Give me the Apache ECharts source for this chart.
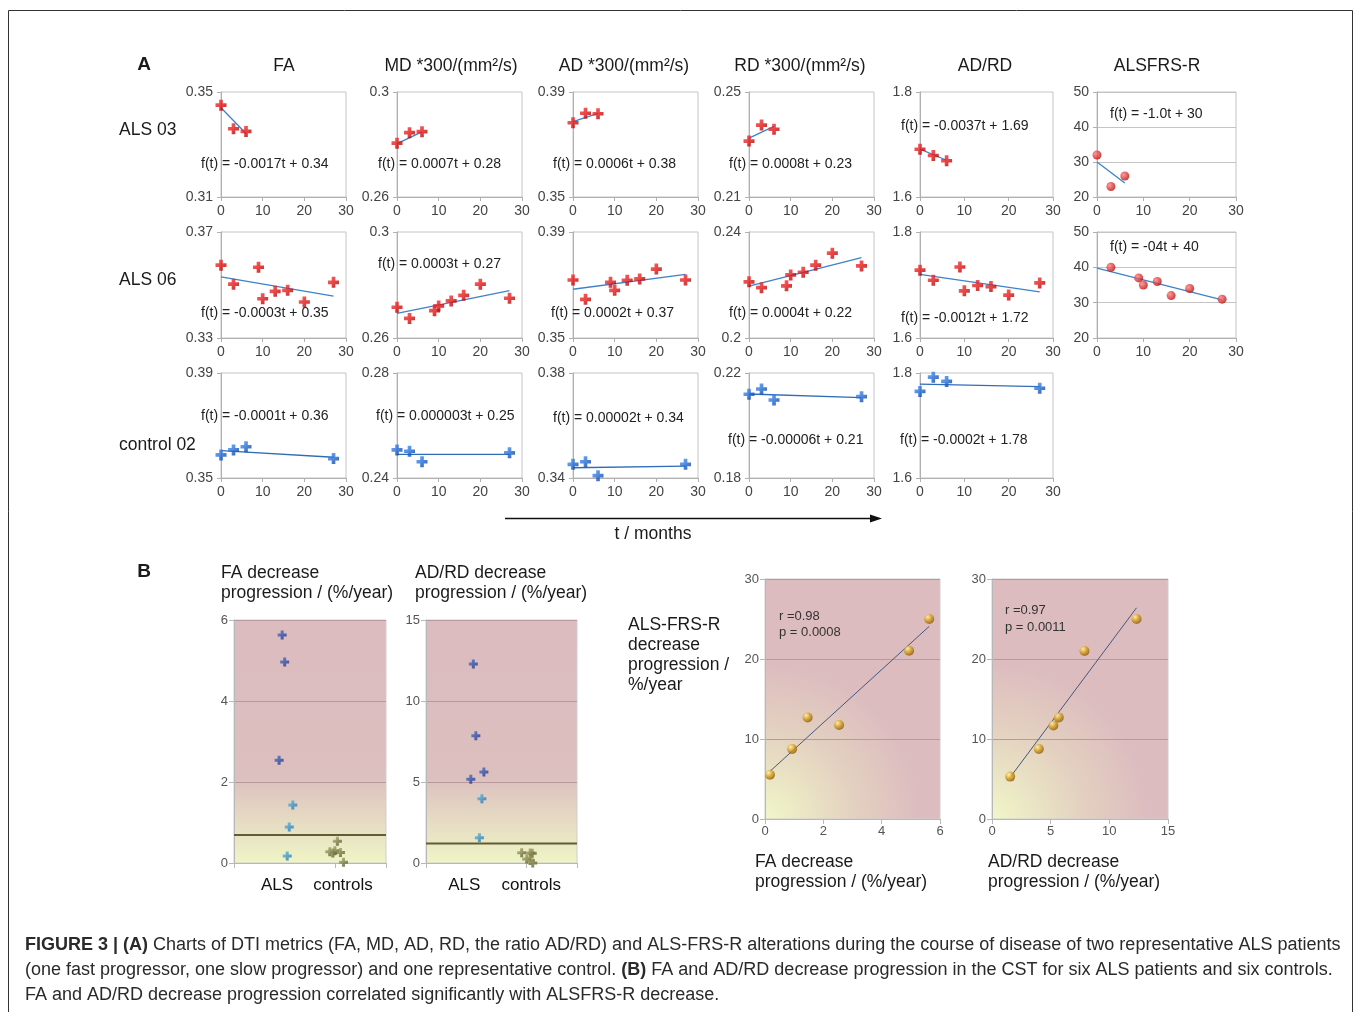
<!DOCTYPE html>
<html><head><meta charset="utf-8">
<script src="https://cdn.jsdelivr.net/npm/echarts@6/dist/echarts.min.js"></script>
<style>html,body{margin:0;padding:0;background:#fff}#c{width:1354px;height:1012px}</style>
</head><body><div id="c"></div>
<script>
// ---------------- DATA ----------------
// time points (months)
const tALS03 = [0, 3, 6];
const tALS06 = [0, 3, 9, 10, 13, 16, 20, 27];
const tALS06frs = [3, 9, 10, 13, 16, 20, 27];
const tCtrl02 = [0, 3, 6, 27];

// ALS 03
const als03FA = [0.345, 0.336, 0.335];
const als03MD = [0.2805, 0.2845, 0.2849];
const als03AD = [0.3783, 0.3819, 0.3817];
const als03RD = [0.2313, 0.2374, 0.2358];
const als03ADRD = [1.691, 1.679, 1.669];
const als03FRS = [32, 23, 26];
// ALS 06
const als06FA = [0.3575, 0.3503, 0.3567, 0.3448, 0.3476, 0.348, 0.3436, 0.351];
const als06MD = [0.2716, 0.2674, 0.2703, 0.2721, 0.274, 0.2761, 0.2803, 0.275];
const als06AD = [0.3719, 0.3646, 0.371, 0.368, 0.3718, 0.3723, 0.376, 0.3719];
const als06RD = [0.2212, 0.219, 0.2197, 0.2238, 0.2248, 0.2275, 0.232, 0.2272];
const als06ADRD = [1.728, 1.709, 1.734, 1.689, 1.699, 1.697, 1.681, 1.704];
const als06FRS = [40, 37, 35, 36, 32, 34, 31];
// control 02
const ctrlFA = [0.3588, 0.3607, 0.3619, 0.3574];
const ctrlMD = [0.2507, 0.2502, 0.2462, 0.2496];
const ctrlAD = [0.3452, 0.3462, 0.3409, 0.3452];
const ctrlRD = [0.2119, 0.2139, 0.2097, 0.211];
const ctrlADRD = [1.765, 1.792, 1.784, 1.771];

// trend-line end values as drawn (start, end)
const tr03FA = [0.344, 0.3342], tr03MD = [0.2803, 0.2848], tr03AD = [0.3787, 0.3819],
      tr03RD = [0.2324, 0.2369], tr03ADRD = [1.691, 1.670], tr03FRS = [30, 24];
const tr06FA = [0.3531, 0.3458], tr06MD = [0.2693, 0.2779], tr06AD = [0.3684, 0.374],
      tr06RD = [0.2196, 0.2303], tr06ADRD = [1.720, 1.687], tr06FRS = [39.8, 30.8];
const trCFA = [0.3604, 0.3579], trCMD = [0.249, 0.249], trCAD = [0.3439, 0.3445],
      trCRD = [0.212, 0.2106], trCADRD = [1.779, 1.774];

// Panel B
const faALS = [5.63, 4.96, 2.54, 1.43, 0.89, 0.17];
const faALSx = [0.95, 1.0, 0.89, 1.16, 1.09, 1.05];
const faCtrl = [0.54, 0.28, 0.30, 0.26, 0.02, 0.25];
const faCtrlX = [2.04, 1.89, 1.99, 2.1, 2.16, 1.95];
const adrdALS = [12.28, 7.86, 5.62, 5.17, 3.97, 1.56];
const adrdALSx = [0.94, 0.99, 1.15, 0.89, 1.11, 1.06];
const adrdCtrl = [0.64, 0.62, 0.6, 0.25, 0.15, 0.0];
const adrdCtrlX = [1.9, 2.07, 2.11, 2.0, 2.07, 2.12];
const faThreshold = 0.69, adrdThreshold = 1.2;

const faProg = [0.17, 0.93, 1.46, 2.54, 4.94, 5.63];
const frsVsFa = [5.54, 8.75, 12.7, 11.75, 21.04, 25.0];
const adrdProg = [1.55, 3.99, 5.23, 5.69, 7.88, 12.32];
const frsVsAdrd = [5.3, 8.75, 11.7, 12.7, 21.0, 25.0];
const fitFaX = [0.17, 5.63], fitFaY = [5.96, 24.08];
const fitAdrdX = [1.61, 12.32], fitAdrdY = [5.33, 26.4];

// ---------------- LAYOUT / STYLE ----------------
const FONT = "'Liberation Sans', Arial, sans-serif";
const colLeft = [221, 397, 573, 749, 920, 1097];
const colWidth = [125, 125, 125, 125, 133, 139];
const rowTop = [92, 232, 373];
const rowHeight = [105, 106, 105];

const panels = [
  {r:0,c:0,min:0.31,max:0.35,t:tALS03,v:als03FA,tt:[0,6],tv:tr03FA,eq:'f(t) = -0.0017t + 0.34',ex:201,ey:164},
  {r:0,c:1,min:0.26,max:0.30,t:tALS03,v:als03MD,tt:[0,6],tv:tr03MD,eq:'f(t) = 0.0007t + 0.28',ex:378,ey:164},
  {r:0,c:2,min:0.35,max:0.39,t:tALS03,v:als03AD,tt:[0,6],tv:tr03AD,eq:'f(t) = 0.0006t + 0.38',ex:553,ey:164},
  {r:0,c:3,min:0.21,max:0.25,t:tALS03,v:als03RD,tt:[0,6],tv:tr03RD,eq:'f(t) = 0.0008t + 0.23',ex:729,ey:164},
  {r:0,c:4,min:1.6,max:1.8,t:tALS03,v:als03ADRD,tt:[0,6],tv:tr03ADRD,eq:'f(t) = -0.0037t + 1.69',ex:901,ey:126},
  {r:0,c:5,min:20,max:50,t:tALS03,v:als03FRS,tt:[0,6],tv:tr03FRS,eq:'f(t) = -1.0t + 30',ex:1110,ey:114,frs:true},
  {r:1,c:0,min:0.33,max:0.37,t:tALS06,v:als06FA,tt:[0,27],tv:tr06FA,eq:'f(t) = -0.0003t + 0.35',ex:201,ey:313},
  {r:1,c:1,min:0.26,max:0.30,t:tALS06,v:als06MD,tt:[0,27],tv:tr06MD,eq:'f(t) = 0.0003t + 0.27',ex:378,ey:264},
  {r:1,c:2,min:0.35,max:0.39,t:tALS06,v:als06AD,tt:[0,27],tv:tr06AD,eq:'f(t) = 0.0002t + 0.37',ex:551,ey:313},
  {r:1,c:3,min:0.20,max:0.24,t:tALS06,v:als06RD,tt:[0,27],tv:tr06RD,eq:'f(t) = 0.0004t + 0.22',ex:729,ey:313},
  {r:1,c:4,min:1.6,max:1.8,t:tALS06,v:als06ADRD,tt:[0,27],tv:tr06ADRD,eq:'f(t) = -0.0012t + 1.72',ex:901,ey:318},
  {r:1,c:5,min:20,max:50,t:tALS06frs,v:als06FRS,tt:[0,27],tv:tr06FRS,eq:'f(t) = -04t + 40',ex:1110,ey:247,frs:true},
  {r:2,c:0,min:0.35,max:0.39,t:tCtrl02,v:ctrlFA,tt:[0,27],tv:trCFA,eq:'f(t) = -0.0001t + 0.36',ex:201,ey:416,ctrl:true},
  {r:2,c:1,min:0.24,max:0.28,t:tCtrl02,v:ctrlMD,tt:[0,27],tv:trCMD,eq:'f(t) = 0.000003t + 0.25',ex:376,ey:416,ctrl:true},
  {r:2,c:2,min:0.34,max:0.38,t:tCtrl02,v:ctrlAD,tt:[0,27],tv:trCAD,eq:'f(t) = 0.00002t + 0.34',ex:553,ey:418,ctrl:true},
  {r:2,c:3,min:0.18,max:0.22,t:tCtrl02,v:ctrlRD,tt:[0,27],tv:trCRD,eq:'f(t) = -0.00006t + 0.21',ex:728,ey:440,ctrl:true},
  {r:2,c:4,min:1.6,max:1.8,t:tCtrl02,v:ctrlADRD,tt:[0,27],tv:trCADRD,eq:'f(t) = -0.0002t + 1.78',ex:900,ey:440,ctrl:true}
];

const PLUS = 'path://M4,0H8V4H12V8H8V12H4V8H0V4H4Z';
const redGrad = {type:'linear',x:0,y:0,x2:1,y2:1,colorStops:[{offset:0,color:'#ff3a3a'},{offset:0.55,color:'#e01414'},{offset:1,color:'#8e0000'}]};
const blueGrad = {type:'linear',x:0,y:0,x2:1,y2:1,colorStops:[{offset:0,color:'#4a9cff'},{offset:0.55,color:'#1f66d0'},{offset:1,color:'#0a3585'}]};
const redBall = {type:'radial',x:0.35,y:0.35,r:0.75,colorStops:[{offset:0,color:'#ff8080'},{offset:1,color:'#b80000'}]};
const goldBall = {type:'radial',x:0.35,y:0.3,r:0.8,colorStops:[{offset:0,color:'#fff5b0'},{offset:0.45,color:'#d8a020'},{offset:1,color:'#7a4a00'}]};
const darkBlue = {type:'linear',x:0,y:0,x2:1,y2:1,colorStops:[{offset:0,color:'#4d78d0'},{offset:1,color:'#1a2f80'}]};
const lightBlue = {type:'linear',x:0,y:0,x2:1,y2:1,colorStops:[{offset:0,color:'#5cc0e8'},{offset:1,color:'#1f6aa8'}]};
const olive = {type:'linear',x:0,y:0,x2:1,y2:1,colorStops:[{offset:0,color:'#b8b878'},{offset:1,color:'#4a4a20'}]};
const pinkV = {type:'linear',x:0,y:0,x2:0,y2:1,colorStops:[{offset:0,color:'#dcbcbf'},{offset:0.64,color:'#dcbfbf'},{offset:1,color:'#eff5c6'}]};
const pinkR = {type:'radial',x:0,y:1,r:1.05,colorStops:[{offset:0,color:'#f1f7c8'},{offset:0.5,color:'#e3d0c0'},{offset:0.85,color:'#dcbcbf'},{offset:1,color:'#dcbcbf'}]};

const grids = [], xAxes = [], yAxes = [], series = [], graphics = [];
const tickLbl = {color:'#444', fontSize:14, fontFamily:FONT};

panels.forEach((p) => {
  const gi = grids.length;
  grids.push({left:colLeft[p.c], top:rowTop[p.r], width:colWidth[p.c], height:rowHeight[p.r],
    show:true, borderColor:'#c4c4c4', borderWidth:1, backgroundColor:'transparent', containLabel:false, outerBoundsMode:'none'});
  xAxes.push({gridIndex:gi, type:'value', min:0, max:30, interval:10,
    axisLine:{show:true, lineStyle:{color:'#b0b0b0'}}, axisTick:{show:true, length:4, lineStyle:{color:'#b0b0b0'}},
    axisLabel:Object.assign({margin:7}, tickLbl), splitLine:{show:false}});
  const ya = {gridIndex:gi, type:'value', min:p.min, max:p.max,
    axisLine:{show:true, lineStyle:{color:'#b0b0b0'}}, axisTick:{show:true, length:4, lineStyle:{color:'#b0b0b0'}},
    axisLabel:Object.assign({margin:8}, tickLbl)};
  if (p.frs) {
    ya.interval = 10;
    ya.splitLine = {show:true, lineStyle:{color:'#c4c4c4'}};
  } else {
    ya.axisLabel.customValues = [p.min, p.max];
    ya.axisTick.customValues = [p.min, p.max];
    ya.splitLine = {show:false};
  }
  yAxes.push(ya);
  series.push({type:'line', xAxisIndex:gi, yAxisIndex:gi, symbol:'none', silent:true,
    lineStyle:{color: p.ctrl ? '#2f6db5' : '#3d82c8', width:1.3},
    data:[[p.tt[0], p.tv[0]], [p.tt[1], p.tv[1]]], z:2});
  series.push({type:'scatter', xAxisIndex:gi, yAxisIndex:gi,
    symbol: p.frs ? 'circle' : PLUS, symbolSize: p.frs ? 9 : 11,
    itemStyle:{color: p.frs ? redBall : (p.ctrl ? blueGrad : redGrad)},
    data: p.t.map((tt, i) => [tt, p.v[i]]), z:3});
  graphics.push({type:'text', z:10, style:{text:p.eq, x:p.ex, y:p.ey, fill:'#222', font:'14px ' + FONT, textVerticalAlign:'middle'}});
});

// ---- Panel B ----
const bGrids = [
  {left:234, top:620, width:152, height:243, bg:pinkV},
  {left:426, top:620, width:151, height:243, bg:pinkV},
  {left:765, top:579, width:175, height:240, bg:pinkR},
  {left:992, top:579, width:176, height:240, bg:pinkR}
];
const gi0 = grids.length;
bGrids.forEach(g => grids.push({left:g.left, top:g.top, width:g.width, height:g.height, show:true,
  backgroundColor:g.bg, borderColor:'#cfcfcf', borderWidth:1, containLabel:false, outerBoundsMode:'none'}));
const bSplit = {show:true, lineStyle:{color:'#b99a9c', width:1}};
const bAxisLine = {show:true, lineStyle:{color:'#b8b8b8'}};
const bLbl = {color:'#555', fontSize:13, fontFamily:FONT, margin:6};
const catLbls = {0.85:'ALS', 2.15:'controls', 0.76:'ALS', 2.09:'controls'};
// B1
xAxes.push({gridIndex:gi0, type:'value', min:0, max:3, axisLine:bAxisLine, splitLine:{show:false},
  axisTick:{show:true, customValues:[0,2,3], lineStyle:{color:'#b8b8b8'}},
  axisLabel:{customValues:[0.85,2.15], formatter:v => catLbls[v] || '', color:'#111', fontSize:17, fontFamily:FONT, margin:14}});
yAxes.push({gridIndex:gi0, type:'value', min:0, max:6, interval:2, axisLine:bAxisLine, axisTick:{show:true, lineStyle:{color:'#b8b8b8'}}, axisLabel:bLbl, splitLine:bSplit});
// B2
xAxes.push({gridIndex:gi0+1, type:'value', min:0, max:3, axisLine:bAxisLine, splitLine:{show:false},
  axisTick:{show:true, customValues:[0,2,3], lineStyle:{color:'#b8b8b8'}},
  axisLabel:{customValues:[0.76,2.09], formatter:v => catLbls[v] || '', color:'#111', fontSize:17, fontFamily:FONT, margin:14}});
yAxes.push({gridIndex:gi0+1, type:'value', min:0, max:15, interval:5, axisLine:bAxisLine, axisTick:{show:true, lineStyle:{color:'#b8b8b8'}}, axisLabel:bLbl, splitLine:bSplit});
// B3
xAxes.push({gridIndex:gi0+2, type:'value', min:0, max:6, interval:2, axisLine:bAxisLine, axisTick:{show:true, lineStyle:{color:'#b8b8b8'}}, axisLabel:bLbl, splitLine:{show:false}});
yAxes.push({gridIndex:gi0+2, type:'value', min:0, max:30, interval:10, axisLine:bAxisLine, axisTick:{show:true, lineStyle:{color:'#b8b8b8'}}, axisLabel:bLbl, splitLine:bSplit});
// B4
xAxes.push({gridIndex:gi0+3, type:'value', min:0, max:15, interval:5, axisLine:bAxisLine, axisTick:{show:true, lineStyle:{color:'#b8b8b8'}}, axisLabel:bLbl, splitLine:{show:false}});
yAxes.push({gridIndex:gi0+3, type:'value', min:0, max:30, interval:10, axisLine:bAxisLine, axisTick:{show:true, lineStyle:{color:'#b8b8b8'}}, axisLabel:bLbl, splitLine:bSplit});

const alsColor = (v, max) => (v / max > 0.3 ? darkBlue : lightBlue);
// B1 series
series.push({type:'line', xAxisIndex:gi0, yAxisIndex:gi0, symbol:'none', silent:true, lineStyle:{color:'#5e5e32', width:2},
  data:[[0, faThreshold],[3, faThreshold]], z:2});
series.push({type:'scatter', xAxisIndex:gi0, yAxisIndex:gi0, symbol:PLUS, symbolSize:9,
  data: faALS.map((v,i) => ({value:[faALSx[i], v], itemStyle:{color:alsColor(v, 6)}})), z:3});
series.push({type:'scatter', xAxisIndex:gi0, yAxisIndex:gi0, symbol:PLUS, symbolSize:9, itemStyle:{color:olive},
  data: faCtrl.map((v,i) => [faCtrlX[i], v]), z:3});
// B2 series
series.push({type:'line', xAxisIndex:gi0+1, yAxisIndex:gi0+1, symbol:'none', silent:true, lineStyle:{color:'#5e5e32', width:2},
  data:[[0, adrdThreshold],[3, adrdThreshold]], z:2});
series.push({type:'scatter', xAxisIndex:gi0+1, yAxisIndex:gi0+1, symbol:PLUS, symbolSize:9,
  data: adrdALS.map((v,i) => ({value:[adrdALSx[i], v], itemStyle:{color:alsColor(v, 15)}})), z:3});
series.push({type:'scatter', xAxisIndex:gi0+1, yAxisIndex:gi0+1, symbol:PLUS, symbolSize:9, itemStyle:{color:olive},
  data: adrdCtrl.map((v,i) => [adrdCtrlX[i], v]), z:3});
// B3 / B4
series.push({type:'line', xAxisIndex:gi0+2, yAxisIndex:gi0+2, symbol:'none', silent:true, lineStyle:{color:'#45577f', width:1},
  data:[[fitFaX[0], fitFaY[0]],[fitFaX[1], fitFaY[1]]], z:2});
series.push({type:'scatter', xAxisIndex:gi0+2, yAxisIndex:gi0+2, symbol:'circle', symbolSize:10, itemStyle:{color:goldBall},
  data: faProg.map((x,i) => [x, frsVsFa[i]]), z:3});
series.push({type:'line', xAxisIndex:gi0+3, yAxisIndex:gi0+3, symbol:'none', silent:true, lineStyle:{color:'#45577f', width:1},
  data:[[fitAdrdX[0], fitAdrdY[0]],[fitAdrdX[1], fitAdrdY[1]]], z:2});
series.push({type:'scatter', xAxisIndex:gi0+3, yAxisIndex:gi0+3, symbol:'circle', symbolSize:10, itemStyle:{color:goldBall},
  data: adrdProg.map((x,i) => [x, frsVsAdrd[i]]), z:3});

// ---- Texts ----
function txt(text, x, y, size, opts) {
  opts = opts || {};
  graphics.push({type:'text', z:10, style:{text:text, x:x, y:y, fill:opts.fill || '#1a1a1a',
    font:(opts.bold ? 'bold ' : '') + size + 'px ' + FONT, textAlign:opts.align || 'left', textVerticalAlign:'middle'}});
}
txt('A', 144, 65, 19, {bold:true, align:'center'});
const headers = ['FA', 'MD *300/(mm²/s)', 'AD *300/(mm²/s)', 'RD *300/(mm²/s)', 'AD/RD', 'ALSFRS-R'];
const headerX = [284, 451, 624, 800, 985, 1157];
headers.forEach((h, i) => txt(h, headerX[i], 66, 17.5, {align:'center'}));
txt('ALS 03', 119, 130, 17.5);
txt('ALS 06', 119, 280, 17.5);
txt('control 02', 119, 445, 17.5);
txt('t / months', 653, 534, 17.5, {align:'center'});
graphics.push({type:'line', z:10, shape:{x1:505, y1:518.5, x2:872, y2:518.5}, style:{stroke:'#111', lineWidth:1.3}});
graphics.push({type:'polygon', z:10, shape:{points:[[870,514.5],[882,518.5],[870,522.5]]}, style:{fill:'#111'}});

txt('B', 144, 572, 19, {bold:true, align:'center'});
txt('FA decrease', 221, 573, 17.5);
txt('progression / (%/year)', 221, 593, 17.5);
txt('AD/RD decrease', 415, 573, 17.5);
txt('progression / (%/year)', 415, 593, 17.5);
txt('ALS-FRS-R', 628, 625, 17.5);
txt('decrease', 628, 645, 17.5);
txt('progression /', 628, 665, 17.5);
txt('%/year', 628, 685, 17.5);
txt('FA decrease', 755, 862, 17.5);
txt('progression / (%/year)', 755, 882, 17.5);
txt('AD/RD decrease', 988, 862, 17.5);
txt('progression / (%/year)', 988, 882, 17.5);
txt('r =0.98', 779, 616, 13, {fill:'#333'});
txt('p = 0.0008', 779, 632, 13, {fill:'#333'});
txt('r =0.97', 1005, 610, 13, {fill:'#333'});
txt('p = 0.0011', 1005, 627, 13, {fill:'#333'});

// caption
const capLines = [
  '{b|FIGURE 3 | (A)} Charts of DTI metrics (FA, MD, AD, RD, the ratio AD/RD) and ALS-FRS-R alterations during the course of disease of two representative ALS patients',
  '(one fast progressor, one slow progressor) and one representative control. {b|(B)} FA and AD/RD decrease progression in the CST for six ALS patients and six controls.',
  'FA and AD/RD decrease progression correlated significantly with ALSFRS-R decrease.'
];
const capY = [945, 970, 995];
capLines.forEach((l, i) => graphics.push({type:'text', z:10, style:{text:l, x:25, y:capY[i], fill:'#2a2a2a',
  fontSize:18, fontFamily:FONT, textVerticalAlign:'middle',
  rich:{b:{fontWeight:'bold', fontSize:18, fontFamily:FONT, fill:'#2a2a2a'}}}}));

// frame
graphics.push({type:'polyline', z:10, shape:{points:[[8.5,1012],[8.5,10.5],[1352.5,10.5],[1352.5,1012]]}, style:{stroke:'#333', lineWidth:1, fill:null}});

const chart = echarts.init(document.getElementById('c'), null, {renderer:'canvas'});
chart.setOption({
  animation:false, backgroundColor:'#ffffff',
  textStyle:{fontFamily:FONT},
  grid:grids, xAxis:xAxes, yAxis:yAxes, series:series, graphic:graphics
});
</script></body></html>
